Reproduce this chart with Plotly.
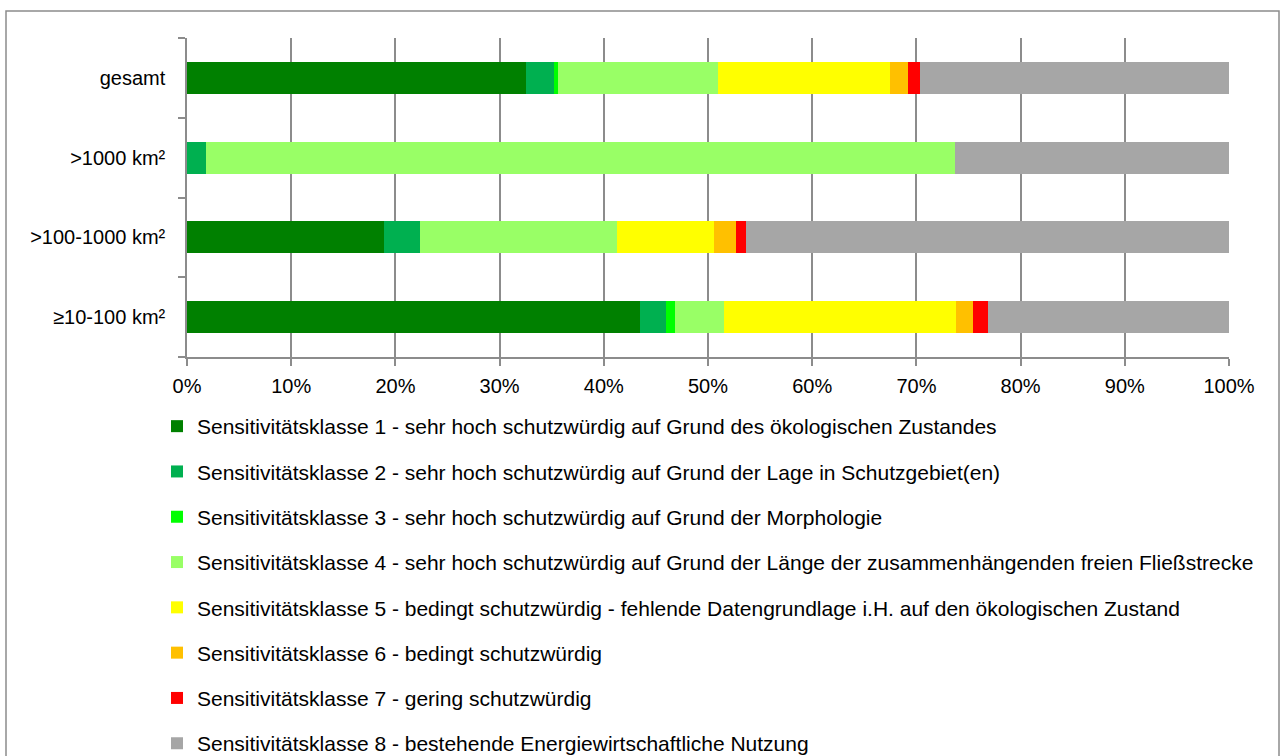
import plotly.graph_objects as go

categories = ["gesamt", ">1000 km²", ">100-1000 km²", "≥10-100 km²"]

series_names = [
    "Sensitivitätsklasse 1 - sehr hoch schutzwürdig auf Grund des ökologischen Zustandes",
    "Sensitivitätsklasse 2 - sehr hoch schutzwürdig auf Grund der Lage in Schutzgebiet(en)",
    "Sensitivitätsklasse 3 - sehr hoch schutzwürdig auf Grund der Morphologie",
    "Sensitivitätsklasse 4 - sehr hoch schutzwürdig auf Grund der Länge der zusammenhängenden freien Fließstrecke",
    "Sensitivitätsklasse 5 - bedingt schutzwürdig - fehlende Datengrundlage i.H. auf den ökologischen Zustand",
    "Sensitivitätsklasse 6 - bedingt schutzwürdig",
    "Sensitivitätsklasse 7 - gering schutzwürdig",
    "Sensitivitätsklasse 8 - bestehende Energiewirtschaftliche Nutzung",
]

klasse1 = [32.5, 0.0, 18.9, 43.5]
klasse2 = [2.75, 1.8, 3.5, 2.5]
klasse3 = [0.35, 0.0, 0.0, 0.8]
klasse4 = [15.4, 71.9, 18.9, 4.7]
klasse5 = [16.5, 0.0, 9.3, 22.3]
klasse6 = [1.7, 0.0, 2.1, 1.65]
klasse7 = [1.1, 0.0, 0.9, 1.45]
klasse8 = [29.7, 26.3, 46.4, 23.1]

colors = ["#008000", "#00B050", "#00FF00", "#99FF66", "#FFFF00", "#FFC000", "#FF0000", "#A6A6A6"]

x_ticks = [0, 10, 20, 30, 40, 50, 60, 70, 80, 90, 100]

all_series = [klasse1, klasse2, klasse3, klasse4, klasse5, klasse6, klasse7, klasse8]

FONT = "Liberation Sans, Arial, sans-serif"

fig = go.Figure()
for i, (name, vals, col) in enumerate(zip(series_names, all_series, colors)):
    fig.add_trace(go.Bar(
        y=categories, x=vals, name=name, orientation="h",
        marker=dict(color=col, line=dict(width=0)),
        legendgroup=f"g{i}",
    ))

W, H = 1283, 756
L, R, T, B = 187, 1229, 38, 357

fig.update_layout(
    width=W, height=H,
    barmode="stack", bargap=0.6,
    plot_bgcolor="white", paper_bgcolor="white",
    margin=dict(l=L, r=W - R, t=T, b=H - B, pad=0, autoexpand=False),
    font=dict(family=FONT, size=20, color="#000000"),
    showlegend=True,
    legend=dict(
        orientation="v", traceorder="grouped", tracegroupgap=15,
        x=(157 - L) / (R - L), xanchor="left",
        y=-(406 - B) / (B - T), yanchor="top",
        font=dict(family=FONT, size=21, color="#000000"),
        bgcolor="rgba(0,0,0,0)",
    ),
    xaxis=dict(
        range=[0, 100], tickvals=x_ticks, ticktext=[f"{v}%" for v in x_ticks],
        showgrid=True, gridcolor="#8C8C8C", gridwidth=1.5,
        showline=True, linecolor="#8C8C8C", linewidth=1.5,
        ticks="outside", ticklen=7, tickcolor="#8C8C8C", tickwidth=1.5,
        ticklabelstandoff=3, zeroline=False, fixedrange=True,
    ),
    yaxis=dict(
        categoryorder="array", categoryarray=categories[::-1],
        showgrid=False, showline=True, linecolor="#8C8C8C", linewidth=1.5,
        ticks="outside", ticklen=7, tickcolor="#8C8C8C", tickwidth=1.5,
        tickson="boundaries", ticklabelstandoff=16, fixedrange=True,
    ),
    shapes=[dict(
        type="rect", xref="paper", yref="paper",
        x0=(6 - L) / (R - L), x1=(1279 - L) / (R - L),
        y0=-(780 - B) / (B - T), y1=(B - 11) / (B - T),
        line=dict(color="#8C8C8C", width=1.5), fillcolor="rgba(0,0,0,0)", layer="below",
    )],
)

fig.write_html("out.html", config={"displayModeBar": False},
               post_script="document.body.style.margin='0px';")
